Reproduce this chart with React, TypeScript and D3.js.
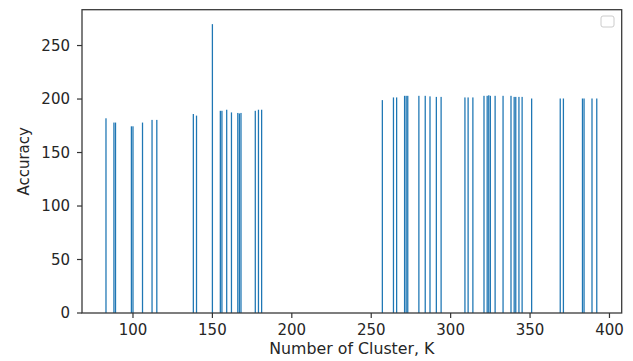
import React from "react";
import * as d3 from "d3";

const clusters = [
  83, 88, 89, 99, 100, 106, 112, 115,
  138, 140, 150, 155, 156, 159, 162, 166, 167, 168, 177, 179, 181,
  257, 264, 266, 271, 272, 273, 280, 284, 287, 291, 294,
  309, 311, 314, 321, 323, 324, 325, 328, 333, 338, 340, 341, 343, 345,
  351, 369, 371, 383, 384, 389, 392,
];
const accuracy = [
  182, 178, 178, 174.5, 174.5, 178, 180.5, 180.5,
  186, 184.5, 270, 189, 189, 190, 187.5, 187, 186.5, 187, 189, 190, 190,
  199, 201.5, 201.5, 203, 203, 203, 203, 203, 202.5, 202, 202,
  201.5, 201.5, 201.5, 203, 203, 203.5, 203, 203, 203, 203, 202, 202, 202, 202,
  200.5, 200.5, 200.5, 200.5, 200.5, 200.5, 200.5,
];
const xTicks = [100, 150, 200, 250, 300, 350, 400];
const yTicks = [0, 50, 100, 150, 200, 250];

export default function App() {
  const W = 633, H = 361;
  const left = 82, right = 621.7, top = 9.7, bottom = 313;
  const x = d3.scaleLinear().domain([67.9, 407.7]).range([left, right]);
  const y = d3.scaleLinear().domain([0, 283.5]).range([bottom, top]);
  const bw = x(0.8) - x(0);
  const font = "'DejaVu Sans', sans-serif";
  const tc = "#262626";
  return (
    <div style={{ position: "fixed", left: 0, top: 0 }}>
      <svg width={W} height={H} style={{ display: "block", background: "#fff" }}>
        {clusters.map((k, i) => (
          <rect key={i} x={x(k) - bw / 2} y={y(accuracy[i])} width={bw}
            height={y(0) - y(accuracy[i])} fill="#1f77b4" />
        ))}
        <rect x={left} y={top} width={right - left} height={bottom - top}
          fill="none" stroke="#3a3a3a" strokeWidth={1.3} />
        {xTicks.map((t) => (
          <g key={t}>
            <line x1={x(t)} x2={x(t)} y1={bottom} y2={bottom + 5} stroke="#333" strokeWidth={1.2} />
            <text x={x(t)} y={335} textAnchor="middle" fontFamily={font} fontSize={15} fill={tc}>{t}</text>
          </g>
        ))}
        {yTicks.map((t) => (
          <g key={t}>
            <line x1={left - 5} x2={left} y1={y(t)} y2={y(t)} stroke="#333" strokeWidth={1.2} />
            <text x={70} y={y(t)} dy="0.36em" textAnchor="end" fontFamily={font} fontSize={15} fill={tc}>{t}</text>
          </g>
        ))}
        <text x={(left + right) / 2} y={353.5} textAnchor="middle" fontFamily={font} fontSize={15.8} fill={tc}>Number of Cluster, K</text>
        <text transform={`translate(29, ${(top + bottom) / 2}) rotate(-90)`} textAnchor="middle" fontFamily={font} fontSize={15} fill={tc}>Accuracy</text>
        <rect x={601} y={16} width={13} height={11} rx={2} fill="#fff" stroke="#ccc" strokeWidth={1} />
      </svg>
    </div>
  );
}
